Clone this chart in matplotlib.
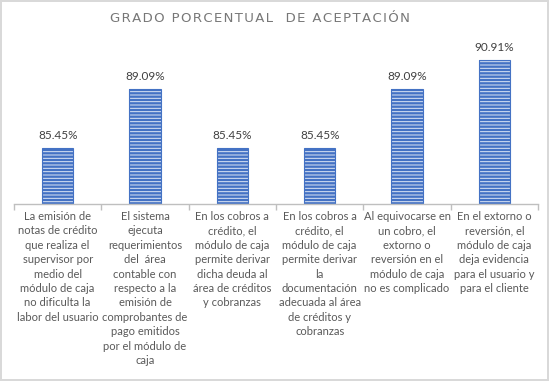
import matplotlib
matplotlib.use('Agg')
import numpy as np
import matplotlib.pyplot as plt

# datos del gráfico
categorias = [
    "La emisión de\nnotas de crédito\nque realiza el\nsupervisor por\nmedio del\nmódulo de caja\nno dificulta la\nlabor del usuario",
    "El sistema\nejecuta\nrequerimientos\ndel  área\ncontable con\nrespecto a la\nemisión de\ncomprobantes de\npago emitidos\npor el módulo de\ncaja",
    "En los cobros a\ncrédito, el\nmódulo de caja\npermite derivar\ndicha deuda al\nárea de créditos\ny cobranzas",
    "En los cobros a\ncrédito, el\nmódulo de caja\npermite derivar\nla\ndocumentación\nadecuada al área\nde créditos y\ncobranzas",
    "Al equivocarse en\nun cobro, el\nextorno o\nreversión en el\nmódulo de caja\nno es complicado",
    "En el extorno o\nreversión, el\nmódulo de caja\ndeja evidencia\npara el usuario y\npara el cliente",
]
porcentajes = [85.45, 89.09, 85.45, 85.45, 89.09, 90.91]
titulo = "GRADO PORCENTUAL  DE ACEPTACIÓN"

azul = "#4472C4"
gris = "#595959"

plt.rcParams['font.family'] = ['Lato', 'DejaVu Sans']
plt.rcParams['hatch.linewidth'] = 0.7

fig = plt.figure(figsize=(5.49, 3.81), dpi=100)
fig.patch.set_edgecolor("#D9D9D9")
fig.patch.set_linewidth(1.5)
ax = fig.add_axes([0.0255, 0.4646, 0.9545, 0.425])

x = np.arange(len(porcentajes))
base = 82
alturas = [p - base for p in porcentajes]
# relleno con rayas horizontales
ax.bar(x, alturas, bottom=base, width=0.36, color=azul, edgecolor="#DDE6F5",
       hatch="-----", linewidth=0)
ax.bar(x, alturas, bottom=base, width=0.36, fill=False, edgecolor=azul, linewidth=0.8)

for xi, p in zip(x, porcentajes):
    ax.annotate(f"{p:.2f}%", (xi, p), xytext=(0, 5), textcoords="offset points",
                ha="center", va="bottom", fontsize=8.5, color="#404040")

ax.set_xlim(-0.5, len(porcentajes) - 0.5)
ax.set_ylim(base, 92)
ax.set_yticks([])
ax.set_xticks(x)
ax.set_xticklabels(categorias, fontsize=8, color=gris, linespacing=1.38)
ax.tick_params(axis="x", which="major", length=0, pad=5)
ax.set_xticks(np.arange(len(porcentajes) + 1) - 0.5, minor=True)
ax.tick_params(axis="x", which="minor", length=4, color="#BFBFBF", width=1)
for s in ["top", "left", "right"]:
    ax.spines[s].set_visible(False)
ax.spines["bottom"].set_color("#BFBFBF")
ax.spines["bottom"].set_linewidth(1)

fig.text(0.474, 0.952, "\u200a".join(titulo), ha="center", va="center",
         fontsize=9.5, color="#777777", fontweight="medium", family=['DejaVu Sans'])

fig.savefig("out.png", dpi=100)
